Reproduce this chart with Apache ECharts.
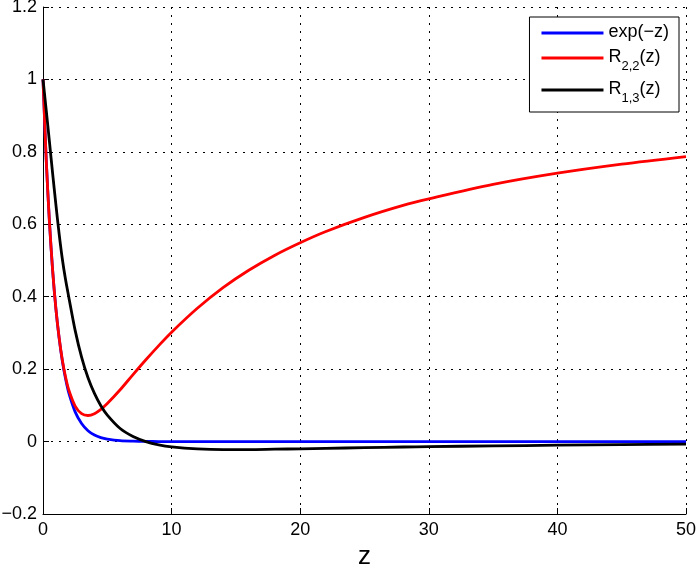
<!DOCTYPE html>
<html>
<head>
<meta charset="utf-8">
<script src="https://cdn.jsdelivr.net/npm/echarts@6/dist/echarts.min.js"></script>
<style>html,body{margin:0;background:#fff}#chart{width:697px;height:572px}</style>
</head>
<body>
<div id="chart"></div>
<script>
// z sample points
const zValues = [0, 0.25, 0.5, 0.75, 1, 1.25, 1.5, 1.75, 2, 2.5, 3, 3.5, 4, 4.5, 5, 6, 7, 8, 9, 10,
  12, 14, 16, 18, 20, 22, 25, 28, 30, 35, 40, 45, 50]
const expValues = [1, 0.779, 0.607, 0.472, 0.368, 0.287, 0.223, 0.174, 0.135, 0.082, 0.05, 0.03, 0.018, 0.011, 0.007, 0.0025, 0.001, 0.0003, 0.0001, 0,
  0, 0, 0, 0, 0, 0, 0, 0, 0, 0, 0, 0, 0]
const r22Values = [1, 0.779, 0.607, 0.473, 0.368, 0.288, 0.226, 0.179, 0.143, 0.098, 0.077, 0.072, 0.077, 0.089, 0.105, 0.143, 0.185, 0.226, 0.265, 0.302,
  0.368, 0.425, 0.473, 0.514, 0.549, 0.58, 0.619, 0.652, 0.67, 0.71, 0.741, 0.766, 0.787]
const r13Values = [1, 0.915, 0.828, 0.74, 0.655, 0.575, 0.505, 0.448, 0.4, 0.307, 0.233, 0.176, 0.133, 0.099, 0.073, 0.036, 0.014, 0, -0.009, -0.0145,
  -0.02, -0.022, -0.022, -0.021, -0.02, -0.0187, -0.0168, -0.015, -0.014, -0.012, -0.01, -0.0085, -0.007]

const seriesNames = ['exp(−z)', 'R_{2,2}(z)', 'R_{1,3}(z)']
const seriesColors = ['#0000ff', '#ff0000', '#000000']
const seriesValues = [expValues, r22Values, r13Values]

const xTicks = { min: 0, max: 50, interval: 10 }
const yTicks = { min: -0.2, max: 1.2, interval: 0.2 }

const fontFamily = '"Liberation Sans", Arial, sans-serif'
const gridDots = { color: '#000', width: 1, type: [2, 6] }

// R_{a,b}(z) -> rich text with a subscript
function legendText(name) {
  const m = name.match(/^(.*)_\{(.*)\}(.*)$/)
  if (!m) return '{a|' + name + '}'
  return '{a|' + m[1] + '}{s|' + m[2] + '}{a|' + m[3] + '}'
}

const chart = echarts.init(document.getElementById('chart'), null, { renderer: 'canvas' })

chart.setOption({
  animation: false,
  backgroundColor: '#fff',
  textStyle: { fontFamily },
  grid: { left: 43, right: 11, top: 7, bottom: 58, outerBoundsMode: 'none' },
  legend: {
    orient: 'vertical',
    right: 18,
    top: 17,
    padding: [6, 10, 7, 12],
    itemGap: 7,
    itemWidth: 62,
    itemHeight: 3,
    icon: 'rect',
    borderColor: '#000',
    borderWidth: 1,
    backgroundColor: '#fff',
    data: seriesNames,
    formatter: legendText,
    textStyle: {
      color: '#000',
      rich: {
        a: { fontSize: 18, lineHeight: 20, verticalAlign: 'top', fontFamily, color: '#000' },
        s: { fontSize: 13, lineHeight: 13, padding: [12, 0, 0, 0], verticalAlign: 'top', fontFamily, color: '#000' }
      }
    }
  },
  xAxis: {
    type: 'value',
    min: xTicks.min,
    max: xTicks.max,
    interval: xTicks.interval,
    name: 'z',
    nameLocation: 'middle',
    nameGap: 30,
    nameTextStyle: { fontSize: 26, color: '#000', fontFamily },
    axisLine: { onZero: false, lineStyle: { color: '#000', width: 1 } },
    axisTick: { inside: true, length: 6, lineStyle: { color: '#000' } },
    axisLabel: { color: '#000', fontSize: 18, margin: 7, fontFamily },
    splitLine: { show: true, lineStyle: gridDots }
  },
  yAxis: {
    type: 'value',
    min: yTicks.min,
    max: yTicks.max,
    interval: yTicks.interval,
    axisLine: { show: true, onZero: false, lineStyle: { color: '#000', width: 1 } },
    axisTick: { show: true, inside: true, length: 6, lineStyle: { color: '#000' } },
    axisLabel: {
      color: '#000',
      fontSize: 18,
      margin: 6,
      fontFamily,
      formatter: v => String(Math.round(v * 10) / 10).replace('-', '−')
    },
    splitLine: { show: true, lineStyle: gridDots }
  },
  series: seriesNames.map((name, i) => ({
    name,
    type: 'line',
    data: zValues.map((z, k) => [z, seriesValues[i][k]]),
    showSymbol: false,
    smooth: 0.3,
    color: seriesColors[i],
    lineStyle: { color: seriesColors[i], width: 2.8 },
    z: 2 + i
  }))
})

window.addEventListener('resize', () => chart.resize())
</script>
</body>
</html>
